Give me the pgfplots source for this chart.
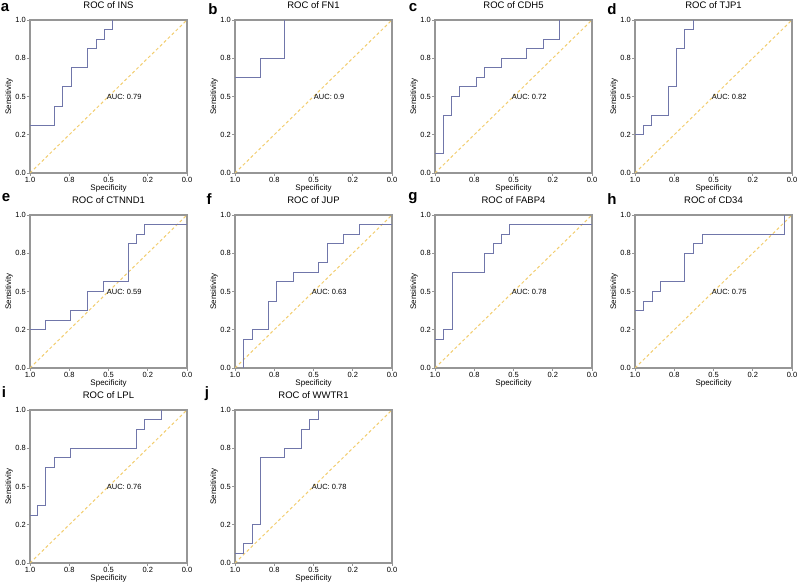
\documentclass[border=0pt]{standalone}
\usepackage{pgfplots}
\pgfplotsset{compat=1.18}
\usepackage{fontspec}
\setmainfont{Liberation Sans}
\definecolor{axisgray}{RGB}{150,150,150}
\definecolor{curveblue}{RGB}{112,118,170}
\definecolor{diagyellow}{RGB}{242,205,110}
\pgfplotsset{
  rocstyle/.style={
    scale only axis, width=157pt, height=153pt,
    xmin=0, xmax=1, ymin=0, ymax=1, x dir=reverse,
    xtick={0,0.25,0.5,0.75,1}, xticklabels={0.0,0.2,0.5,0.8,1.0},
    ytick={0,0.25,0.5,0.75,1}, yticklabels={0.0,0.2,0.5,0.8,1.0},
    axis line style={draw=axisgray, line width=1.1pt},
    tick style={draw=axisgray, line width=0.8pt},
    tick align=outside, tick pos=left, major tick length=3pt,
    ticklabel style={font=\fontsize{7.5}{8}\selectfont, inner sep=1pt},
    xlabel=Specificity, ylabel=Sensitivity,
    label style={font=\fontsize{8}{9}\selectfont},
    xlabel style={at={(axis description cs:0.5,-0.098)}, anchor=center, inner sep=0pt},
    ylabel style={at={(axis description cs:-0.134,0.5)}, anchor=center, inner sep=0pt},
    title style={font=\fontsize{9.5}{10}\selectfont, at={(axis description cs:0.5,1.059)}, anchor=center, inner sep=0pt},
    anchor=north west,
  },
  diag/.style={diagyellow, line width=1pt, dash pattern=on 3pt off 2.5pt},
  roc/.style={curveblue, line width=1pt},
}
\newcommand{\auc}[1]{\node[font=\fontsize{7.5}{8}\selectfont] at (axis cs:0.4,0.5) {AUC: #1};}
\begin{document}
\begin{tikzpicture}
\useasboundingbox (0pt,0pt) rectangle (800pt,585pt);
% row 1
\begin{axis}[rocstyle, at={(30pt,565pt)}, title={ROC of INS}]
\addplot[diag] coordinates {(1,0) (0,1)};
\addplot[roc] coordinates {(1,0.3125)(0.842,0.3125)(0.842,0.4375)(0.79,0.4375)(0.79,0.5625)(0.737,0.5625)(0.737,0.6875)(0.632,0.6875)(0.632,0.8125)(0.579,0.8125)(0.579,0.875)(0.526,0.875)(0.526,0.9375)(0.474,0.9375)(0.474,1)};
\auc{0.79}
\end{axis}
\begin{axis}[rocstyle, at={(235pt,565pt)}, title={ROC of FN1}]
\addplot[diag] coordinates {(1,0) (0,1)};
\addplot[roc] coordinates {(1,0.625)(0.837,0.625)(0.837,0.75)(0.682,0.75)(0.682,1)};
\auc{0.9}
\end{axis}
\begin{axis}[rocstyle, at={(435pt,565pt)}, title={ROC of CDH5}]
\addplot[diag] coordinates {(1,0) (0,1)};
\addplot[roc] coordinates {(1,0.125)(0.943,0.125)(0.943,0.375)(0.894,0.375)(0.894,0.5)(0.841,0.5)(0.841,0.5625)(0.735,0.5625)(0.735,0.625)(0.682,0.625)(0.682,0.6875)(0.576,0.6875)(0.576,0.75)(0.417,0.75)(0.417,0.8125)(0.311,0.8125)(0.311,0.875)(0.21,0.875)(0.21,1)};
\auc{0.72}
\end{axis}
\begin{axis}[rocstyle, at={(635pt,565pt)}, title={ROC of TJP1}]
\addplot[diag] coordinates {(1,0) (0,1)};
\addplot[roc] coordinates {(1,0.25)(0.947,0.25)(0.947,0.3125)(0.894,0.3125)(0.894,0.375)(0.788,0.375)(0.788,0.5625)(0.735,0.5625)(0.735,0.8125)(0.682,0.8125)(0.682,0.9375)(0.629,0.9375)(0.629,1)};
\auc{0.82}
\end{axis}
% row 2
\begin{axis}[rocstyle, at={(30pt,370pt)}, title={ROC of CTNND1}]
\addplot[diag] coordinates {(1,0) (0,1)};
\addplot[roc] coordinates {(1,0.25)(0.901,0.25)(0.901,0.3125)(0.741,0.3125)(0.741,0.375)(0.636,0.375)(0.636,0.5)(0.531,0.5)(0.531,0.5625)(0.375,0.5625)(0.375,0.8125)(0.322,0.8125)(0.322,0.875)(0.27,0.875)(0.27,0.9375)(0,0.9375)};
\auc{0.59}
\end{axis}
\begin{axis}[rocstyle, at={(235pt,370pt)}, title={ROC of JUP}]
\addplot[diag] coordinates {(1,0) (0,1)};
\addplot[roc] coordinates {(0.943,0)(0.943,0.1875)(0.89,0.1875)(0.89,0.25)(0.788,0.25)(0.788,0.4375)(0.735,0.4375)(0.735,0.5625)(0.629,0.5625)(0.629,0.625)(0.47,0.625)(0.47,0.6875)(0.413,0.6875)(0.413,0.8125)(0.311,0.8125)(0.311,0.875)(0.21,0.875)(0.21,0.9375)(0,0.9375)};
\auc{0.63}
\end{axis}
\begin{axis}[rocstyle, at={(435pt,370pt)}, title={ROC of FABP4}]
\addplot[diag] coordinates {(1,0) (0,1)};
\addplot[roc] coordinates {(1,0.1875)(0.943,0.1875)(0.943,0.25)(0.89,0.25)(0.89,0.625)(0.682,0.625)(0.682,0.75)(0.629,0.75)(0.629,0.8125)(0.576,0.8125)(0.576,0.875)(0.523,0.875)(0.523,0.9375)(0,0.9375)};
\auc{0.78}
\end{axis}
\begin{axis}[rocstyle, at={(635pt,370pt)}, title={ROC of CD34}]
\addplot[diag] coordinates {(1,0) (0,1)};
\addplot[roc] coordinates {(1,0.375)(0.943,0.375)(0.943,0.4375)(0.89,0.4375)(0.89,0.5)(0.837,0.5)(0.837,0.5625)(0.682,0.5625)(0.682,0.75)(0.625,0.75)(0.625,0.8125)(0.572,0.8125)(0.572,0.875)(0.047,0.875)(0.047,1)};
\auc{0.75}
\end{axis}
% row 3
\begin{axis}[rocstyle, at={(30pt,175pt)}, title={ROC of LPL}]
\addplot[diag] coordinates {(1,0) (0,1)};
\addplot[roc] coordinates {(1,0.3125)(0.954,0.3125)(0.954,0.375)(0.901,0.375)(0.901,0.625)(0.846,0.625)(0.846,0.6875)(0.741,0.6875)(0.741,0.75)(0.322,0.75)(0.322,0.875)(0.27,0.875)(0.27,0.9375)(0.162,0.9375)(0.162,1)};
\auc{0.76}
\end{axis}
\begin{axis}[rocstyle, at={(235pt,175pt)}, title={ROC of WWTR1}]
\addplot[diag] coordinates {(1,0) (0,1)};
\addplot[roc] coordinates {(1,0.0625)(0.943,0.0625)(0.943,0.125)(0.89,0.125)(0.89,0.25)(0.837,0.25)(0.837,0.6875)(0.682,0.6875)(0.682,0.75)(0.576,0.75)(0.576,0.875)(0.523,0.875)(0.523,0.9375)(0.47,0.9375)(0.47,1)};
\auc{0.78}
\end{axis}
% panel letters
\begin{scope}[every node/.style={font=\bfseries\fontsize{15}{15}\selectfont, inner sep=0pt}]
\node at (5pt,577pt) {a};
\node at (213pt,576pt) {b};
\node at (413pt,577pt) {c};
\node at (612pt,576pt) {d};
\node at (6pt,387pt) {e};
\node at (209pt,386pt) {f};
\node at (413pt,387pt) {g};
\node at (612pt,386pt) {h};
\node at (4pt,193pt) {i};
\node at (207pt,191pt) {j};
\end{scope}
\end{tikzpicture}
\end{document}
